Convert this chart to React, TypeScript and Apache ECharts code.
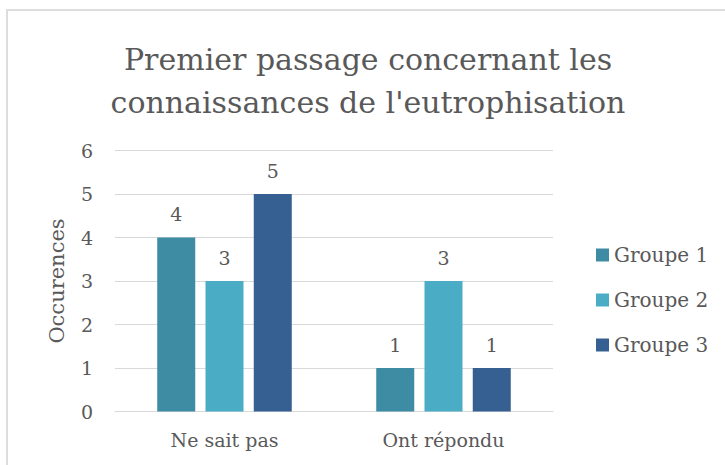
import React, { useEffect, useRef } from "react";
import * as echarts from "echarts";

const categories = ["Ne sait pas", "Ont répondu"];
const seriesNames = ["Groupe 1", "Groupe 2", "Groupe 3"];
const groupe1 = [4, 1];
const groupe2 = [3, 3];
const groupe3 = [5, 1];
const colors = ["#3E8CA4", "#4BACC6", "#376092"];
const titleText = "Premier passage concernant les\nconnaissances de l'eutrophisation";
const yName = "Occurences";

const FONT = "DejaVu Serif";
const TXT = "#595959";

export default function App() {
  const ref = useRef<HTMLDivElement>(null);
  useEffect(() => {
    if (!ref.current) return;
    const chart = echarts.init(ref.current, null, { renderer: "svg" });
    const values = [groupe1, groupe2, groupe3];
    chart.setOption({
      animation: false,
      backgroundColor: "#ffffff",
      color: colors,
      title: {
        text: titleText,
        left: 363,
        textAlign: "center",
        top: 33,
        textStyle: {
          fontFamily: FONT,
          fontWeight: "normal",
          fontSize: 30,
          lineHeight: 43,
          color: TXT,
        },
      },
      legend: {
        orient: "vertical",
        left: 591,
        top: 240,
        itemWidth: 13,
        itemHeight: 13,
        itemGap: 25,
        icon: "rect",
        textStyle: { fontFamily: FONT, fontSize: 20, color: TXT, lineHeight: 18 },
        data: seriesNames,
      },
      grid: { left: 115, right: 172, top: 150.5, bottom: 53.5 },
      xAxis: {
        type: "category",
        data: categories,
        axisTick: { show: false },
        axisLine: { lineStyle: { color: "#D9D9D9", width: 1 } },
        axisLabel: { fontFamily: FONT, fontSize: 19, color: TXT, margin: 19 },
      },
      yAxis: {
        type: "value",
        min: 0,
        max: 6,
        interval: 1,
        name: yName,
        nameLocation: "middle",
        nameRotate: 90,
        nameGap: 48,
        nameTextStyle: { fontFamily: FONT, fontSize: 21, color: TXT },
        axisLine: { show: false },
        axisTick: { show: false },
        splitLine: { lineStyle: { color: "#D9D9D9", width: 1 } },
        axisLabel: { fontFamily: FONT, fontSize: 19, color: TXT, margin: 22 },
      },
      graphic: [
        {
          type: "rect",
          shape: { x: 7, y: 10, width: 900, height: 600 },
          style: { fill: "none", stroke: "#DDDDDD", lineWidth: 2 },
          silent: true,
        },
      ],
      series: seriesNames.map((name, i) => ({
        name,
        type: "bar",
        data: values[i],
        barWidth: 38,
        barGap: "27%",
        label: {
          show: true,
          position: "top",
          distance: 14,
          fontFamily: FONT,
          fontSize: 19,
          color: TXT,
        },
      })),
    });
    return () => chart.dispose();
  }, []);
  return (
    <div
      ref={ref}
      style={{ position: "absolute", left: 0, top: 0, width: 725, height: 465 }}
    />
  );
}
